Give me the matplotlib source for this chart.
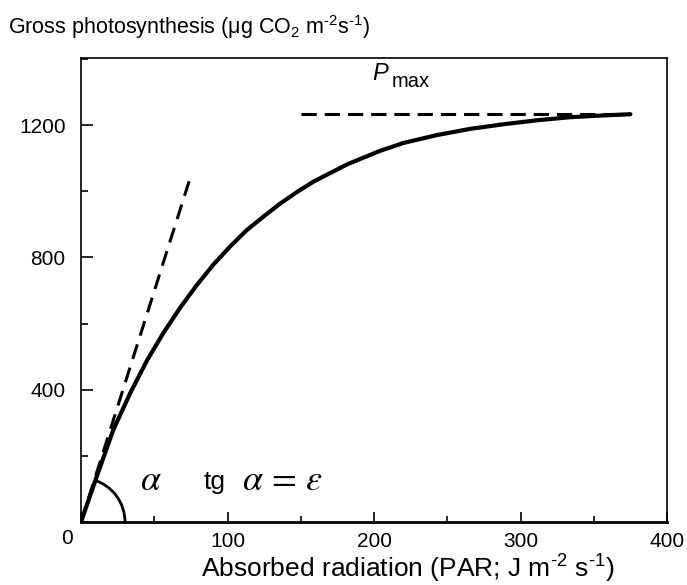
import numpy as np
import matplotlib
matplotlib.use("Agg")
import matplotlib.pyplot as plt
from matplotlib.patches import Arc
from matplotlib.ticker import MultipleLocator

plt.rcParams['font.family'] = ['Liberation Sans', 'DejaVu Sans']
plt.rcParams['mathtext.fontset'] = 'custom'
plt.rcParams['mathtext.rm'] = 'Liberation Sans'
plt.rcParams['mathtext.it'] = 'Liberation Sans:italic'
plt.rcParams['mathtext.bf'] = 'Liberation Sans:bold'

# Light-response curve
radiation = [0, 10.7, 22, 33.5, 45, 56, 68, 79, 90.5, 102, 113, 125, 136, 147.5, 159,
             182, 204, 220, 243, 266, 289, 312, 334, 355, 375]
photosynthesis = [0, 137, 278, 389, 488, 570, 650, 716, 779, 834, 882, 925, 963, 998, 1030,
                  1082, 1122, 1146, 1170, 1189, 1203, 1215, 1224, 1229, 1233]

# Initial slope (tangent) line
tangent_x = [0, 74.5]
tangent_y = [0, 1040]

# Pmax asymptote
pmax_x = [150, 375]
pmax_y = [1233, 1233]

xticks_major = [0, 100, 200, 300, 400]
yticks_major = [400, 800, 1200]

fig = plt.figure(figsize=(6.87, 5.85), dpi=100)
ax = fig.add_axes([81/687, 1-522/585, (667-81)/687, (522-58)/585])

ax.plot(radiation, photosynthesis, color='black', lw=3.0,
        solid_capstyle='round', solid_joinstyle='round')
ax.plot(tangent_x, tangent_y, color='black', lw=2.2, dashes=(5, 3))
ax.plot(pmax_x, pmax_y, color='black', lw=2.2, dashes=(5, 2.6))

ax.set_xlim(0, 400)
ax.set_ylim(0, 1403)

# angle arc (circular on screen)
r_px = 44
sx = 586/400
sy = 464/1403
theta2 = np.degrees(np.arctan2(tangent_y[1], tangent_x[1]))
arc = Arc((0, 0), 2*r_px/sx, 2*r_px/sy, theta1=0, theta2=theta2, color='black', lw=2.0)
ax.add_patch(arc)

ax.set_xticks(xticks_major)
ax.set_xticklabels([''] + [str(v) for v in xticks_major[1:]])
ax.set_yticks(yticks_major)
ax.set_yticklabels([str(v) for v in yticks_major])
ax.xaxis.set_minor_locator(MultipleLocator(50))
ax.yaxis.set_minor_locator(MultipleLocator(200))
ax.tick_params(axis='x', which='major', direction='in', length=7, width=1.2, labelsize=15, pad=7)
ax.tick_params(axis='x', which='minor', direction='in', length=4.5, width=1.2)
ax.tick_params(axis='y', which='major', direction='in', length=8.5, width=1.2, labelsize=15, pad=11)
ax.tick_params(axis='y', which='minor', direction='in', length=5, width=1.2)

for side in ['left', 'top', 'right']:
    ax.spines[side].set_linewidth(1.2)
ax.spines['bottom'].set_linewidth(2.0)

# origin label
fig.text(67/687, 1-538/585, '0', ha='center', va='center', fontsize=15)

# annotations
ax.text(199, 1336, 'P', fontsize=17, style='italic', ha='left', va='baseline')
ax.text(211.8, 1315, 'max', fontsize=14.5, ha='left', va='baseline')
ax.text(40, 125, r'$\alpha$', fontsize=26, ha='left', va='center', math_fontfamily='stix')
ax.text(84, 120, 'tg', fontsize=19, ha='left', va='center')
ax.text(110, 125, r'$\alpha\,=\,\varepsilon$', fontsize=26, ha='left', va='center', math_fontfamily='stix')

fig.text(8/687, 1-27/585,
         r'Gross photosynthesis (μg CO$_2$ m$^{\text{-}2}$s$^{\text{-}1}$)',
         ha='left', va='center', fontsize=15.5)
fig.text(408/687, 1-578/585,
         r'Absorbed radiation (PAR; J m$^{\text{-}2}$ s$^{\text{-}1}$)',
         ha='center', va='baseline', fontsize=19)

fig.savefig('out.png', dpi=100)
